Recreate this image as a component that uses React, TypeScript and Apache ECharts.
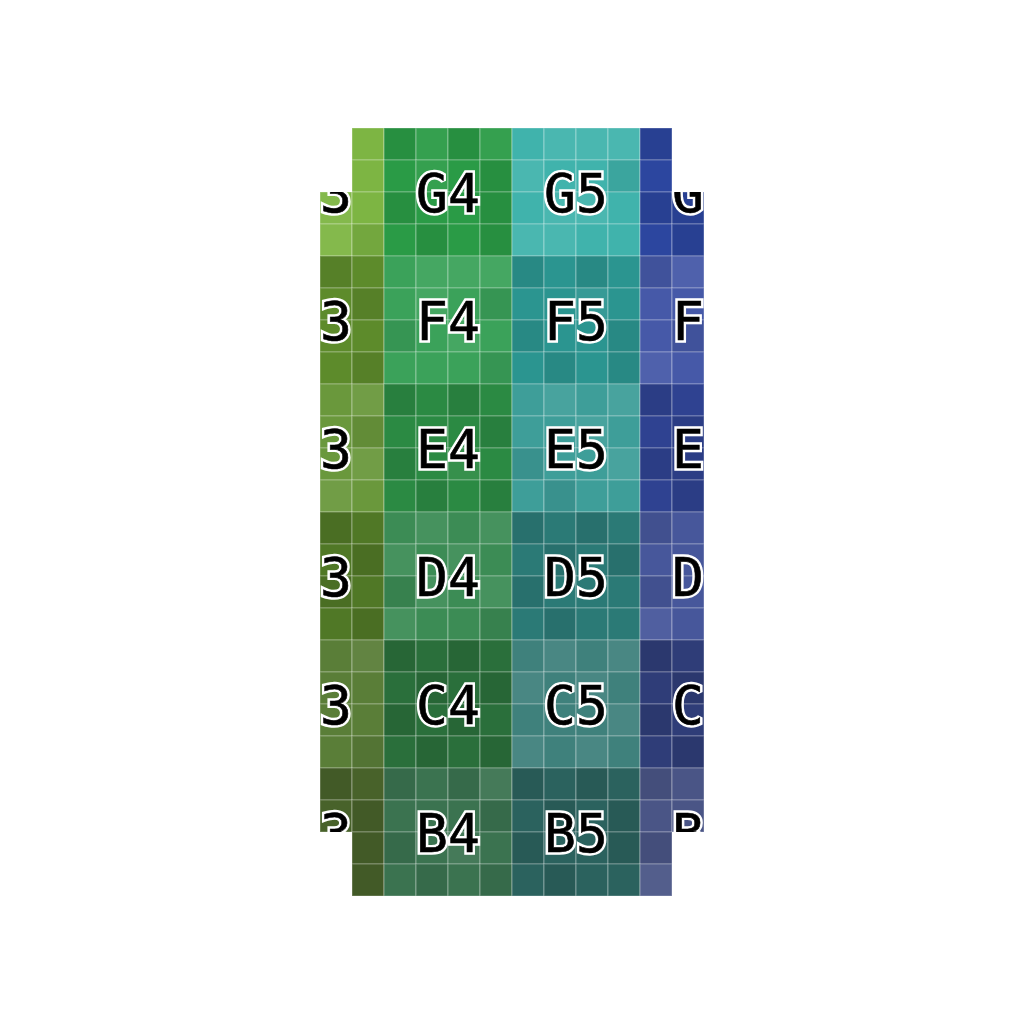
import React, { useEffect, useRef } from "react";
import * as echarts from "echarts";

// Rows of blocks (top to bottom) and octave columns of blocks (left to right)
const notes = ["G", "F", "E", "D", "C", "B"];
const octaves = [3, 4, 5, 6];

// Base colour of each block: blockColors[octaveIndex][noteIndex]
const octave3Colors = ["#7db543", "#5d8b2b", "#6a983c", "#507826", "#5a7e38", "#48622a"];
const octave4Colors = ["#2a9b46", "#3ba25a", "#2b8a43", "#3c8c55", "#2a6f3b", "#3b7350"];
const octave5Colors = ["#40b3ac", "#2b9590", "#3e9e99", "#2b7a76", "#3f817c", "#2b625e"];
const octave6Colors = ["#2c469f", "#4659a8", "#2f4291", "#47579b", "#2f3d78", "#4a5586"];
const blockColors = [octave3Colors, octave4Colors, octave5Colors, octave6Colors];

// First visible cell column (cells are 1 unit wide; blocks are 4x4 cells)
const firstVisibleCol = 2;

// Per-cell shade (rows top→bottom, visible columns left→right); null = hidden
const cellShades: (number | null)[][] = [
  [null, 0, -1, 1, -1, 1, 0, 1, 1, 1, -1, null],
  [null, 0, 0, 1, 0, -1, 1, 0, 0, -1, 0, null],
  [1, 0, -1, 0, 0, -1, 0, 1, 1, 0, -1, -1],
  [1, -1, 0, -1, 0, -1, 1, 1, 0, 0, 0, -1],
  [-1, 0, 0, 1, 1, 1, -1, 0, -1, 0, -1, 1],
  [0, -1, 0, 1, 0, -1, 0, 0, 1, 0, 0, 0],
  [0, 0, -1, 0, 1, 0, -1, 0, 0, -1, 0, -1],
  [0, -1, 0, 0, 0, -1, 0, -1, 0, -1, 1, 0],
  [0, 1, -1, 0, -1, 0, 0, 1, 0, 1, -1, 0],
  [0, -1, 0, 0, 0, -1, 0, 0, 1, 0, 0, -1],
  [0, 1, -1, 0, 1, 0, -1, 0, 0, 1, -1, -1],
  [1, 0, 0, -1, 0, -1, 0, -1, 0, 0, 0, -1],
  [-1, 0, 0, 1, 0, 1, -1, 0, -1, 0, -1, 0],
  [0, -1, 1, 0, 1, 0, 0, -1, 0, -1, 0, 0],
  [-1, 0, -1, 1, 0, 1, -1, 0, 0, 0, -1, 0],
  [0, -1, 1, 0, 0, -1, 0, -1, 0, 0, 1, 0],
  [0, 1, -1, 0, -1, 0, 0, 1, 0, 1, -1, 0],
  [0, 0, 0, -1, 0, -1, 1, 0, 1, 0, 0, -1],
  [0, 0, -1, 0, -1, 0, 0, 0, 0, 1, -1, 0],
  [0, -1, 0, -1, 0, -1, 1, 0, 1, 0, 0, -1],
  [-1, 0, -1, 0, -1, 1, -1, 0, -1, 0, -1, 0],
  [0, -1, 0, 0, 0, -1, 0, -1, 0, -1, 0, 0],
  [null, -1, -1, 0, 1, 0, -1, 0, 0, -1, -1, null],
  [null, -1, 0, -1, 0, -1, 0, -1, 0, 0, 1, null],
];

function hexToRgb(h: string) {
  const n = parseInt(h.slice(1), 16);
  return [(n >> 16) & 255, (n >> 8) & 255, n & 255];
}
function shadeColor(hex: string, s: number) {
  const [r, g, b] = hexToRgb(hex);
  const mix = (c: number) =>
    s > 0 ? c + (255 - c) * 0.05 * s : c * (1 + 0.08 * s);
  return `rgb(${Math.round(mix(r))},${Math.round(mix(g))},${Math.round(mix(b))})`;
}

const BLOCK = 4;
const totalCols = octaves.length * BLOCK;
const totalRows = notes.length * BLOCK;

export default function App() {
  const ref = useRef<HTMLDivElement>(null);
  useEffect(() => {
    if (!ref.current) return;
    const chart = echarts.init(ref.current, null, { renderer: "svg" });

    const cellData: any[] = [];
    const cellColors: string[] = [];
    cellShades.forEach((row, r) => {
      row.forEach((s, i) => {
        if (s === null) return;
        const c = firstVisibleCol + i;
        const oi = Math.floor(c / BLOCK);
        const ni = Math.floor(r / BLOCK);
        cellData.push([c, r]);
        cellColors.push(shadeColor(blockColors[oi][ni], s));
      });
    });

    const labelData: any[] = [];
    notes.forEach((n, ni) => {
      octaves.forEach((o, oi) => {
        labelData.push([oi * BLOCK + BLOCK / 2, ni * BLOCK + BLOCK / 2, n + o]);
      });
    });

    const mask = (x: number, y: number, w: number, h: number) => ({
      type: "rect",
      z: 100,
      shape: { x, y, width: w, height: h },
      style: { fill: "#ffffff" },
      silent: true,
    });

    const textBase = {
      fontSize: 53,
      fontFamily: "DejaVu Sans Mono",
      align: "center",
      verticalAlign: "middle",
    };

    chart.setOption({
      animation: false,
      backgroundColor: "#ffffff",
      grid: { left: 256, top: 128, width: 512, height: 768 },
      xAxis: { type: "value", min: 0, max: totalCols, show: false },
      yAxis: { type: "value", min: 0, max: totalRows, inverse: true, show: false },
      series: [
        {
          type: "custom",
          data: cellData,
          clip: false,
          renderItem: (params: any, api: any) => {
            const p = api.coord([api.value(0), api.value(1)]);
            const s = api.size([1, 1]);
            return {
              type: "rect",
              shape: { x: p[0], y: p[1], width: s[0], height: s[1] },
              style: {
                fill: cellColors[params.dataIndex],
                stroke: "rgba(255,255,255,0.3)",
                lineWidth: 1.2,
              },
            };
          },
        },
        {
          type: "custom",
          data: labelData,
          clip: false,
          z: 5,
          renderItem: (params: any, api: any) => {
            const p = api.coord([api.value(0), api.value(1)]);
            const t = labelData[params.dataIndex][2];
            return {
              type: "group",
              x: p[0],
              y: p[1] + 1,
              children: [
                {
                  type: "text",
                  style: {
                    ...textBase,
                    text: t,
                    fill: "#ffffff",
                    stroke: "#ffffff",
                    lineWidth: 5.5,
                  },
                },
                {
                  type: "text",
                  style: {
                    ...textBase,
                    text: t,
                    fill: "#000000",
                    stroke: "#000000",
                    lineWidth: 0.6,
                  },
                },
              ],
            };
          },
        },
      ],
      graphic: [
        mask(0, 0, 320, 1024),
        mask(704, 0, 320, 1024),
        mask(0, 0, 1024, 128),
        mask(0, 896, 1024, 128),
        mask(320, 0, 32, 192),
        mask(320, 832, 32, 192),
        mask(672, 0, 32, 192),
        mask(672, 832, 32, 192),
      ],
    });
    return () => chart.dispose();
  }, []);
  return (
    <div
      ref={ref}
      style={{ position: "absolute", left: 0, top: 0, width: 1024, height: 1024 }}
    />
  );
}
